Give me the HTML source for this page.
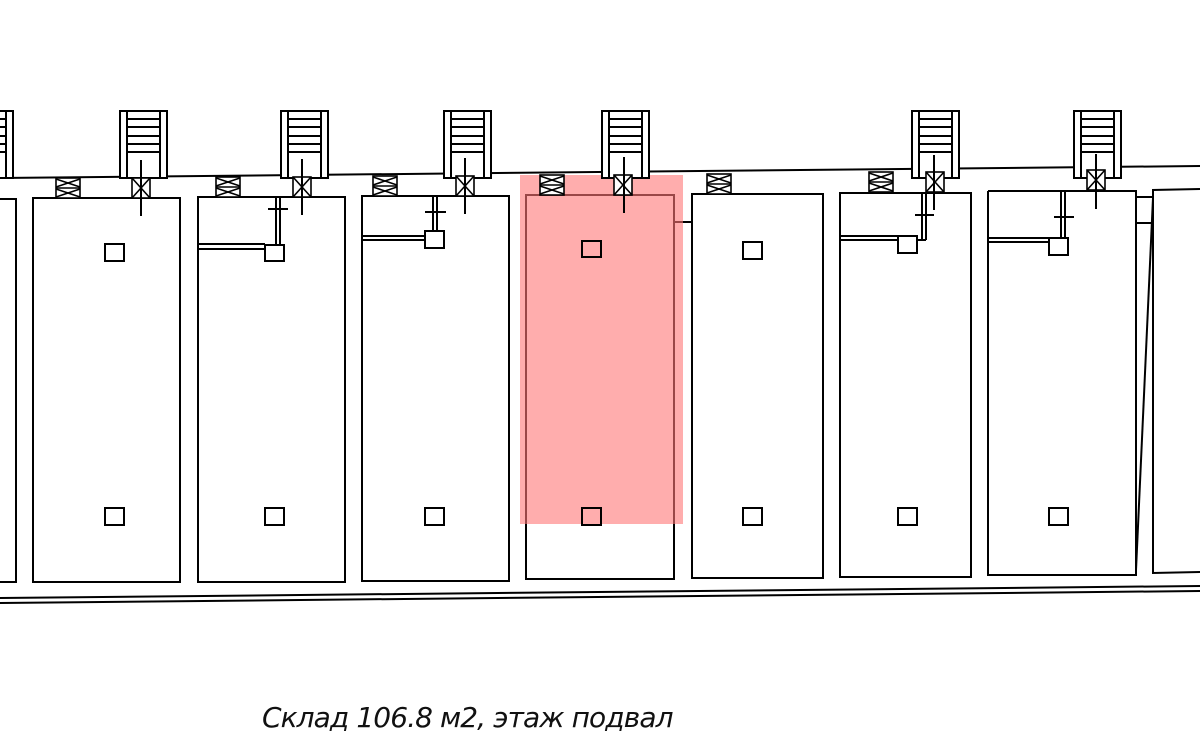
<!DOCTYPE html>
<html><head><meta charset="utf-8"><style>
html,body{margin:0;padding:0;background:#fff;width:1200px;height:745px;overflow:hidden}
svg{position:absolute;left:0;top:0}
.t{position:absolute;left:262px;top:701px;font:italic 28px "DejaVu Sans","Liberation Sans",sans-serif;color:#111;letter-spacing:-0.9px}
</style></head><body>
<svg width="1200" height="745" viewBox="0 0 1200 745">
<defs>
<g id="st" fill="none" stroke="#000" stroke-width="2">
<rect x="0" y="111" width="47" height="67" fill="#fff"/>
<line x1="7" y1="111" x2="7" y2="178"/><line x1="40" y1="111" x2="40" y2="178"/>
<line x1="7" y1="119" x2="40" y2="119"/><line x1="7" y1="127" x2="40" y2="127"/><line x1="7" y1="136" x2="40" y2="136"/><line x1="7" y1="144" x2="40" y2="144"/><line x1="7" y1="152" x2="40" y2="152"/>
</g>
<g id="dx" fill="none" stroke="#000" stroke-width="1.6">
<rect x="0" y="0" width="18" height="20" fill="#fff"/><line x1="0" y1="0" x2="18" y2="20"/><line x1="18" y1="0" x2="0" y2="20"/>
</g>
<g id="vx" fill="none" stroke="#000" stroke-width="1.6">
<rect x="0" y="0" width="24" height="20" fill="#fff"/><line x1="0" y1="10" x2="24" y2="10"/>
<line x1="0" y1="1" x2="24" y2="9"/><line x1="24" y1="1" x2="0" y2="9"/><line x1="0" y1="11" x2="24" y2="19"/><line x1="24" y1="11" x2="0" y2="19"/>
</g>
</defs>
<g fill="none" stroke="#000" stroke-width="2">
<line x1="0" y1="178" x2="1200" y2="166"/>
<rect x="-5" y="199" width="21" height="383"/>
<rect x="33" y="198" width="147" height="384"/>
<rect x="198" y="197" width="147" height="385"/>
<rect x="362" y="196" width="147" height="385"/>
<rect x="526" y="195" width="148" height="384"/>
<rect x="692" y="194" width="131" height="384"/>
<rect x="840" y="193" width="131" height="384"/>
<polyline points="988,191 1136,191 1136,575 988,575 988,191"/>
<line x1="1153" y1="198" x2="1136" y2="570"/>
<line x1="1136" y1="197" x2="1153" y2="197"/><line x1="1136" y1="223" x2="1153" y2="223"/><line x1="1136" y1="191" x2="1136" y2="223"/>
<polyline points="1200,189 1153,190 1153,573 1200,572"/>
<line x1="674" y1="222" x2="692" y2="222"/>
<line x1="0" y1="598" x2="1200" y2="586"/>
<line x1="0" y1="603" x2="1200" y2="591"/>
</g>
<rect x="520" y="175" width="163" height="349" fill="#f77" opacity="0.6"/>
<g>
<use href="#st" x="-34"/><use href="#st" x="120"/><use href="#st" x="281"/><use href="#st" x="444"/><use href="#st" x="602"/><use href="#st" x="912"/><use href="#st" x="1074"/>
<use href="#dx" x="132" y="178"/><use href="#dx" x="293" y="177"/><use href="#dx" x="456" y="176"/><use href="#dx" x="614" y="175"/><use href="#dx" x="926" y="172"/><use href="#dx" x="1087" y="170"/>
<use href="#vx" x="56" y="178"/><use href="#vx" x="216" y="177"/><use href="#vx" x="373" y="176"/><use href="#vx" x="540" y="175"/><use href="#vx" x="707" y="174"/><use href="#vx" x="869" y="172"/>
</g>
<g stroke="#000" stroke-width="2" fill="none">
<line x1="141" y1="160" x2="141" y2="216"/><line x1="302" y1="159" x2="302" y2="215"/><line x1="465" y1="158" x2="465" y2="214"/><line x1="624" y1="157" x2="624" y2="213"/><line x1="934" y1="155" x2="934" y2="210"/><line x1="1096" y1="154" x2="1096" y2="209"/>
<rect x="105" y="244" width="19" height="17"/><rect x="105" y="508" width="19" height="17"/>
<rect x="265" y="508" width="19" height="17"/><rect x="425" y="508" width="19" height="17"/>
<rect x="582" y="241" width="19" height="16"/><rect x="582" y="508" width="19" height="17"/>
<rect x="743" y="242" width="19" height="17"/><rect x="743" y="508" width="19" height="17"/>
<rect x="898" y="508" width="19" height="17"/><rect x="1049" y="508" width="19" height="17"/>
<rect x="265" y="245" width="19" height="16"/>
<line x1="198" y1="244" x2="265" y2="244"/><line x1="198" y1="249" x2="265" y2="249"/>
<line x1="276" y1="198" x2="276" y2="245"/><line x1="280" y1="198" x2="280" y2="245"/>
<line x1="268" y1="209" x2="288" y2="209"/>
<rect x="425" y="231" width="19" height="17"/>
<line x1="362" y1="236" x2="425" y2="236"/><line x1="362" y1="240" x2="425" y2="240"/>
<line x1="433" y1="197" x2="433" y2="231"/><line x1="437" y1="197" x2="437" y2="231"/>
<line x1="425" y1="212" x2="446" y2="212"/>
<rect x="898" y="236" width="19" height="17"/>
<line x1="840" y1="236" x2="898" y2="236"/><line x1="840" y1="240" x2="898" y2="240"/>
<line x1="922" y1="193" x2="922" y2="240"/><line x1="926" y1="193" x2="926" y2="240"/><line x1="917" y1="240" x2="926" y2="240"/>
<line x1="915" y1="215" x2="934" y2="215"/>
<rect x="1049" y="238" width="19" height="17"/>
<line x1="988" y1="238" x2="1049" y2="238"/><line x1="988" y1="242" x2="1049" y2="242"/>
<line x1="1061" y1="192" x2="1061" y2="238"/><line x1="1065" y1="192" x2="1065" y2="238"/>
<line x1="1054" y1="217" x2="1074" y2="217"/>
</g>
</svg>
<div class="t">Склад 106.8 м2, этаж подвал</div>
</body></html>
